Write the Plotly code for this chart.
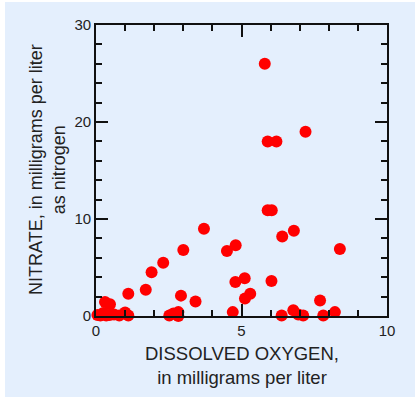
import plotly.graph_objects as go

# Dissolved oxygen (mg/L) and nitrate as N (mg/L)
oxygen = [5.8, 7.2, 5.9, 6.2, 5.9, 6.04, 3.71, 6.8, 6.4, 4.8, 4.5, 3.0, 8.38,
          2.31, 1.91, 1.71, 5.11, 4.79, 6.03, 1.11, 2.92, 5.3, 5.12, 3.42, 7.7,
          0.31, 0.48, 4.7, 8.21, 6.78, 6.95, 7.12, 6.38, 7.81,
          2.52, 2.66, 2.83, 2.83, 1.0, 1.11,
          0.05, 0.15, 0.25, 0.35, 0.47, 0.62, 0.8]
nitrate = [26.0, 19.0, 18.0, 18.0, 10.9, 10.9, 9.0, 8.8, 8.2, 7.3, 6.7, 6.8, 6.9,
           5.5, 4.5, 2.7, 3.9, 3.5, 3.6, 2.3, 2.1, 2.3, 1.8, 1.5, 1.6,
           1.45, 1.2, 0.4, 0.4, 0.6, 0.15, 0.05, 0.05, 0.05,
           0.05, 0.25, 0.4, 0.0, 0.35, 0.05,
           0.1, 0.05, 0.3, 0.05, 0.1, 0.15, 0.05]

x_major, x_minor = 5, 1
y_major, y_minor = 10, 2

W, H = 417, 398
L, R, T, B = 96, 30, 25, 82
pw, ph = W - L - R, H - T - B

def px_x(p):
    return (p - L) / pw

def px_y(p):
    return (H - B - p) / ph

BG = "#E4EFFD"
FONT = "Liberation Sans, Arial, sans-serif"

fig = go.Figure(go.Scatter(
    x=oxygen, y=nitrate, mode="markers",
    marker=dict(color="#FF0000", size=12, line=dict(width=0)),
    cliponaxis=False, hoverinfo="x+y",
))

axis_common = dict(
    showgrid=False, zeroline=False, showline=True, linecolor="#111111",
    linewidth=1.6, mirror="allticks", ticks="inside", ticklen=12,
    tickwidth=1.6, tickcolor="#111111",
    tickfont=dict(family=FONT, size=15, color="#222222"),
)

fig.update_xaxes(range=[0, 10], tick0=0, dtick=x_major,
                 minor=dict(ticks="inside", dtick=x_minor, ticklen=6, tickwidth=1.6,
                            tickcolor="#111111"),
                 **axis_common)
fig.update_yaxes(range=[0, 30], tick0=0, dtick=y_major,
                 minor=dict(ticks="inside", dtick=y_minor, ticklen=6, tickwidth=1.6,
                            tickcolor="#111111"),
                 **axis_common)

# white border strips around the light-blue panel
def strip(x0, x1, y0, y1):
    return dict(type="rect", xref="paper", yref="paper", layer="above",
                x0=px_x(x0), x1=px_x(x1), y0=px_y(y1), y1=px_y(y0),
                fillcolor="white", line=dict(width=0))

fig.update_layout(
    width=W, height=H,
    margin=dict(l=L, r=R, t=T, b=B, pad=0),
    paper_bgcolor=BG, plot_bgcolor=BG,
    showlegend=False,
    font=dict(family=FONT, color="#222222"),
    shapes=[strip(0, 5, 0, H), strip(415, W, 0, H), strip(0, W, 0, 2), strip(0, W, 397, H)],
    annotations=[
        dict(text="DISSOLVED OXYGEN,<br>in milligrams per liter", xref="paper", yref="paper",
             x=px_x(242), y=px_y(365), xanchor="center", yanchor="middle",
             showarrow=False, font=dict(family=FONT, size=18.5, color="#222222")),
        dict(text="NITRATE, in milligrams per liter<br>as nitrogen", xref="paper", yref="paper",
             x=px_x(47), y=px_y(170), xanchor="center", yanchor="middle", textangle=-90,
             showarrow=False, font=dict(family=FONT, size=18, color="#222222")),
    ],
)

fig.write_html("out.html")
